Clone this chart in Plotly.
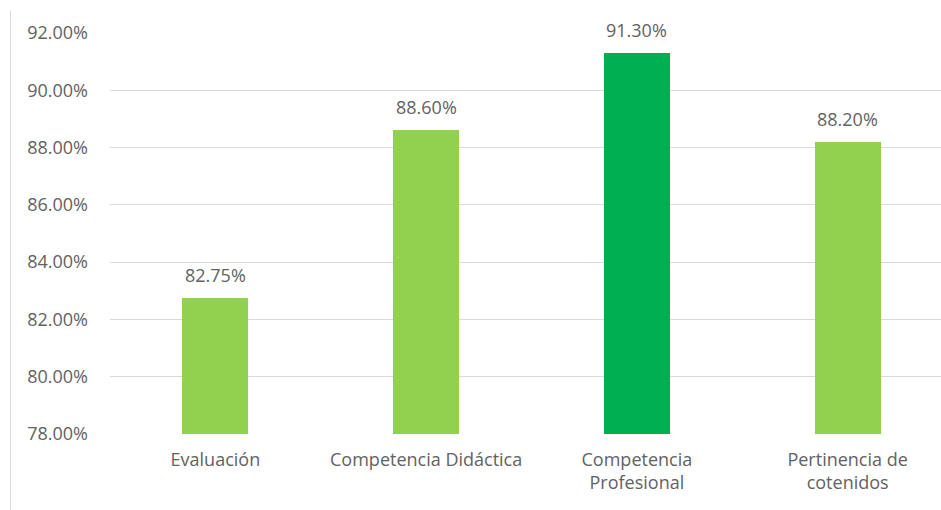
import plotly.graph_objects as go

# Survey dimensions and their average scores (%)
categories = ["Evaluación", "Competencia Didáctica", "Competencia<br>Profesional", "Pertinencia de<br>cotenidos"]
scores = [82.75, 88.60, 91.30, 88.20]
bar_colors = ["#92D050", "#92D050", "#00B050", "#92D050"]
y_ticks = [78, 80, 82, 84, 86, 88, 90, 92]

text_color = "#626262"
grid_color = "#D9D9D9"
font_family = "Open Sans, Liberation Sans, sans-serif"
font_size = 18

fig = go.Figure()
fig.add_trace(go.Bar(
    x=list(range(len(categories))),
    y=scores,
    base=0,
    width=0.313,
    marker=dict(color=bar_colors, line=dict(width=0)),
    hoverinfo="skip",
))

# value labels above each bar
for i, v in enumerate(scores):
    fig.add_annotation(
        x=i, y=v, text=f"{v:.2f}%", showarrow=False,
        yanchor="bottom", yshift=9,
        font=dict(size=font_size, color=text_color, family=font_family),
    )

# thin frame line on the left side of the chart box
fig.add_shape(type="line", xref="paper", yref="paper",
              x0=-0.1197, x1=-0.1197, y0=1.055, y1=-0.2,
              line=dict(color=grid_color, width=1))

fig.update_layout(
    width=941, height=510,
    margin=dict(l=109.5, r=0, t=33, b=76, pad=0),
    plot_bgcolor="white", paper_bgcolor="white",
    showlegend=False,
    bargap=0,
    font=dict(family=font_family, color=text_color, size=font_size),
    xaxis=dict(
        range=[-0.5, 3.443],
        tickmode="array",
        tickvals=list(range(len(categories))),
        ticktext=categories,
        showgrid=False, zeroline=False,
        showline=False,
        ticks="", ticklabelstandoff=13,
        tickfont=dict(size=font_size, color=text_color, family=font_family),
        fixedrange=True,
    ),
    yaxis=dict(
        range=[78, 92],
        tickmode="array",
        tickvals=y_ticks,
        ticktext=[f"{t:.2f}%" for t in y_ticks],
        showgrid=True, gridcolor=grid_color, gridwidth=1,
        zeroline=False, showline=False,
        ticks="", ticklabelstandoff=21,
        tickfont=dict(size=font_size, color=text_color, family=font_family),
        fixedrange=True,
    ),
)

fig.write_html("out.html")
